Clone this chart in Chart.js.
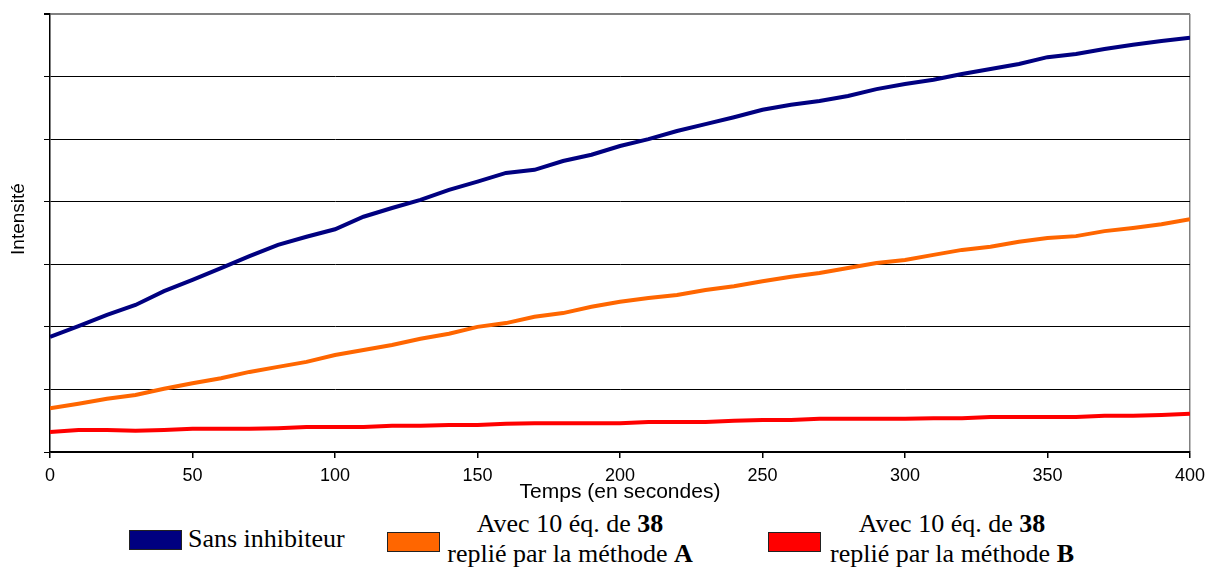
<!DOCTYPE html>
<html lang="fr">
<head>
    <meta charset="UTF-8">
    <title>Intensité en fonction du temps</title>
    <script src="https://cdn.jsdelivr.net/npm/chart.js"></script>
    <style>
        body {
            margin: 0;
            width: 1207px;
            height: 569px;
            background: #fff;
            position: relative;
            overflow: hidden;
        }
        .chart-box {
            position: absolute;
            left: 0;
            top: 0;
            width: 1207px;
            height: 505px;
        }
        .legend {
            position: absolute;
            left: 0;
            top: 502px;
            width: 1207px;
            height: 67px;
            background: #fff;
            font-family: "Liberation Serif", "Times New Roman", serif;
            font-size: 26px;
            color: #000;
        }
        .swatch {
            position: absolute;
            width: 51px;
            height: 18px;
            border: 1.5px solid #222;
        }
        .label {
            position: absolute;
            line-height: 30px;
            text-align: center;
            white-space: nowrap;
        }
    </style>
</head>
<body>
    <div class="chart-box">
        <canvas id="intensityChart"></canvas>
    </div>

    <!-- Legend drawn in html, below the axis -->
    <div class="legend">
        <div class="swatch" style="left:129px; top:28px; background:#000080;"></div>
        <div class="label" style="left:188px; top:22px;">Sans inhibiteur</div>

        <div class="swatch" style="left:387px; top:30px; background:#FF6600;"></div>
        <div class="label" style="left:440px; top:7px; width:260px;">Avec 10 éq. de <b>38</b><br>replié par la méthode <b>A</b></div>

        <div class="swatch" style="left:768px; top:30px; background:#FF0000;"></div>
        <div class="label" style="left:822px; top:7px; width:260px;">Avec 10 éq. de <b>38</b><br>replié par la méthode <b>B</b></div>
    </div>

    <script>
        // temps en secondes
        const temps = [0, 10, 20, 30, 40, 50, 60, 70, 80, 90, 100, 110, 120, 130, 140, 150, 160, 170, 180, 190, 200,
            210, 220, 230, 240, 250, 260, 270, 280, 290, 300, 310, 320, 330, 340, 350, 360, 370, 380, 390, 400];

        // intensité (unités = un intervalle de grille)
        const sansInhibiteur = [1.84, 2.01, 2.19, 2.35, 2.57, 2.75, 2.94, 3.13, 3.31, 3.44, 3.56, 3.76, 3.90, 4.03, 4.19,
            4.32, 4.46, 4.51, 4.65, 4.75, 4.89, 5.00, 5.13, 5.24, 5.35, 5.47, 5.55, 5.61, 5.69, 5.80, 5.88,
            5.95, 6.04, 6.12, 6.20, 6.31, 6.36, 6.44, 6.51, 6.57, 6.62];

        const methodeA = [0.70, 0.77, 0.85, 0.91, 1.01, 1.10, 1.18, 1.28, 1.36, 1.44, 1.55, 1.63, 1.71, 1.81, 1.89,
            2.00, 2.06, 2.16, 2.22, 2.32, 2.40, 2.46, 2.51, 2.59, 2.65, 2.73, 2.80, 2.86, 2.94, 3.02, 3.07,
            3.15, 3.23, 3.28, 3.36, 3.42, 3.45, 3.53, 3.58, 3.64, 3.72];

        const methodeB = [0.32, 0.35, 0.35, 0.34, 0.35, 0.37, 0.37, 0.37, 0.38, 0.40, 0.40, 0.40, 0.42, 0.42, 0.43,
            0.43, 0.45, 0.46, 0.46, 0.46, 0.46, 0.48, 0.48, 0.48, 0.50, 0.51, 0.51, 0.53, 0.53, 0.53, 0.53,
            0.54, 0.54, 0.56, 0.56, 0.56, 0.56, 0.58, 0.58, 0.59, 0.61];

        const xTicks = [0, 50, 100, 150, 200, 250, 300, 350, 400];

        function toPoints(values) {
            return temps.map((t, i) => ({ x: t, y: values[i] }));
        }

        // y title sits a little above the middle of the plot, so draw it by hand
        const yTitlePlugin = {
            id: 'yTitle',
            afterDraw(chart) {
                const { ctx, chartArea } = chart;
                ctx.save();
                ctx.translate(chartArea.left - 31, (chartArea.top + chartArea.bottom) / 2 - 14);
                ctx.rotate(-Math.PI / 2);
                ctx.font = '19px "Liberation Sans", Arial, sans-serif';
                ctx.fillStyle = '#000';
                ctx.textAlign = 'center';
                ctx.textBaseline = 'middle';
                ctx.fillText('Intensité', 0, 0);
                ctx.restore();
            }
        };

        const ctx = document.getElementById('intensityChart').getContext('2d');
        const tickFont = { family: 'Liberation Sans, Arial, sans-serif', size: 18 };
        const titleFont = { family: 'Liberation Sans, Arial, sans-serif', size: 21 };

        new Chart(ctx, {
            type: 'line',
            data: {
                datasets: [
                    { label: 'Sans inhibiteur', data: toPoints(sansInhibiteur), borderColor: '#000080' },
                    { label: 'Méthode A', data: toPoints(methodeA), borderColor: '#FF6600' },
                    { label: 'Méthode B', data: toPoints(methodeB), borderColor: '#FF0000' }
                ]
            },
            plugins: [yTitlePlugin],
            options: {
                responsive: true,
                maintainAspectRatio: false,
                animation: false,
                datasets: {
                    line: { borderWidth: 4, pointRadius: 0, tension: 0, fill: false }
                },
                layout: { padding: { top: 14, right: 17, left: 0, bottom: 0 } },
                plugins: {
                    legend: { display: false },
                    tooltip: { enabled: false }
                },
                scales: {
                    x: {
                        type: 'linear',
                        min: 0,
                        max: 400,
                        afterBuildTicks: s => { s.ticks = xTicks.map(v => ({ value: v })); },
                        afterFit: s => { s.height = 53; s.paddingLeft = 0; s.paddingRight = 0; },
                        ticks: { color: '#000', font: tickFont, maxRotation: 0, padding: 7 },
                        grid: {
                            color: c => c.tick && c.tick.value === 400 ? '#808080' : 'rgba(0,0,0,0)',
                            tickColor: '#000',
                            tickLength: 6,
                            lineWidth: 1.5
                        },
                        border: { color: '#000', width: 1.5 },
                        title: { display: true, text: 'Temps (en secondes)', color: '#000', font: titleFont, padding: 0 }
                    },
                    y: {
                        min: 0,
                        max: 7,
                        afterFit: s => { s.width = 50; },
                        ticks: { stepSize: 1, display: false },
                        grid: {
                            color: c => c.tick && c.tick.value === 7 ? '#808080' : '#000',
                            tickColor: '#000',
                            tickLength: 6,
                            lineWidth: c => c.tick && c.tick.value === 7 ? 2 : 1
                        },
                        border: { color: '#000', width: 1.5 },
                        title: { display: false }
                    }
                }
            }
        });
    </script>
</body>
</html>
